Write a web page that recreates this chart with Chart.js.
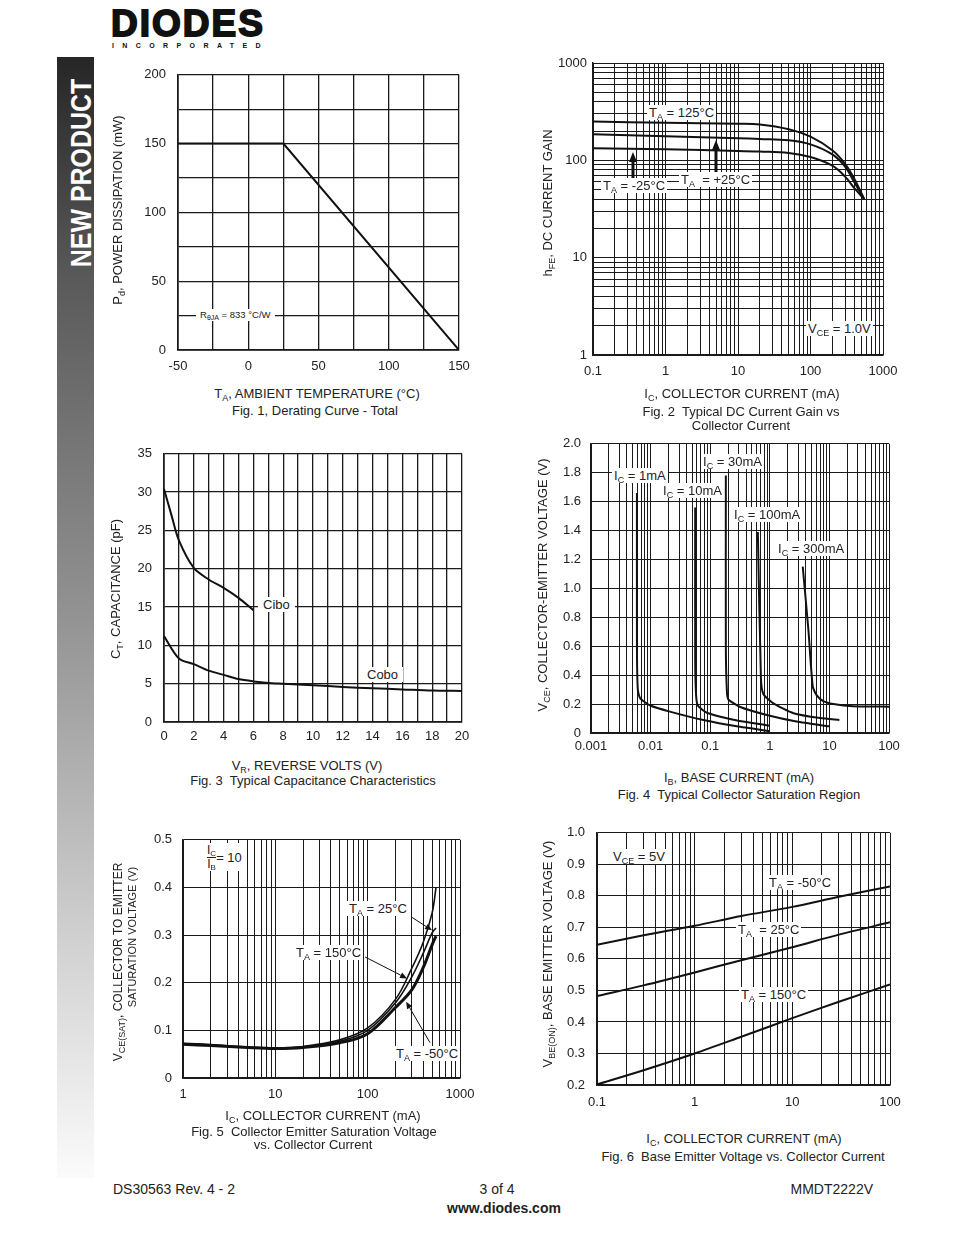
<!DOCTYPE html>
<html>
<head>
<meta charset="utf-8">
<script src="https://cdn.jsdelivr.net/npm/chart.js@4.4.1/dist/chart.umd.min.js"></script>
<style>
body { margin: 0; background: #fff; font-family: "Liberation Sans", Arial, sans-serif; color: #222; }
#page { position: relative; width: 954px; height: 1235px; overflow: hidden; background: #fff; }
canvas { position: absolute; }
.t { position: absolute; white-space: nowrap; line-height: 1; font-size: 13px; transform: translate(-50%, -50%); }
.r { transform: translate(-50%, -50%) rotate(-90deg); }
.lb { position: absolute; white-space: nowrap; line-height: 1; font-size: 13px; background: #fff; padding: 1px 2px; }
.s { font-size: 9px; position: relative; top: 3px; }
#bar { position: absolute; left: 57px; top: 57px; width: 37px; height: 1121px;
       background: linear-gradient(to bottom, #262626 0%, #5a5a5a 20%, #939393 50%, #cfcfcf 78%, #fbfbfb 100%); }
#np { position: absolute; left: 81px; top: 173px; color: #fff; font-weight: bold; font-size: 29px; white-space: nowrap;
      line-height: 1; transform: translate(-50%, -50%) rotate(-90deg) scaleX(0.86); }
#logo { position: absolute; left: 111px; top: 5px; font-size: 37px; font-weight: bold; line-height: 1;
        color: #111; -webkit-text-stroke: 1.8px #111; letter-spacing: 2px; }
#inc { position: absolute; left: 112px; top: 42px; font-size: 7px; font-weight: bold; letter-spacing: 8.4px; line-height: 1; color: #111; }
.foot { position: absolute; font-size: 14px; line-height: 1; white-space: nowrap; color: #222; }
</style>
</head>
<body>
<div id="page">
  <div id="bar"></div>
  <div id="np">NEW PRODUCT</div>
  <div id="logo">DIODES</div>
  <div id="inc">INCORPORATED</div>

  <canvas id="fig1"></canvas>
  <canvas id="fig2"></canvas>
  <canvas id="fig3"></canvas>
  <canvas id="fig4"></canvas>
  <canvas id="fig5"></canvas>
  <canvas id="fig6"></canvas>

  <!-- Fig 1 text -->
  <div class="t r" style="left:117px;top:210px">P<span class="s">d</span>, POWER DISSIPATION (mW)</div>
  <div class="t" style="left:317px;top:393px">T<span class="s">A</span>, AMBIENT TEMPERATURE (°C)</div>
  <div class="t" style="left:315px;top:410px">Fig. 1, Derating Curve - Total</div>
  <div class="lb" style="left:196px;top:309px;font-size:9.5px;padding:1px 4px">R<span class="s" style="font-size:7px;top:2px">θJA</span> = 833 °C/W</div>

  <!-- Fig 2 text -->
  <div class="t r" style="left:547px;top:203px">h<span class="s">FE</span>, DC CURRENT GAIN</div>
  <div class="t" style="left:742px;top:393px">I<span class="s">C</span>, COLLECTOR CURRENT (mA)</div>
  <div class="t" style="left:741px;top:411px">Fig. 2&nbsp; Typical DC Current Gain vs</div>
  <div class="t" style="left:741px;top:425px">Collector Current</div>
  <div class="lb" style="left:647px;top:105px">T<span class="s">A</span> = 125°C</div>
  <div class="lb" style="left:601px;top:178px">T<span class="s">A</span> = -25°C</div>
  <div class="lb" style="left:679px;top:172px">T<span class="s">A</span>&nbsp; = +25°C</div>
  <div class="lb" style="left:806px;top:321px">V<span class="s">CE</span> = 1.0V</div>

  <!-- Fig 3 text -->
  <div class="t r" style="left:115px;top:589px">C<span class="s">T</span>, CAPACITANCE (pF)</div>
  <div class="t" style="left:307px;top:765px">V<span class="s">R</span>, REVERSE VOLTS (V)</div>
  <div class="t" style="left:313px;top:780px">Fig. 3&nbsp; Typical Capacitance Characteristics</div>
  <div class="lb" style="left:258px;top:597px;padding:1px 5px">Cibo</div>
  <div class="lb" style="left:362px;top:667px;padding:1px 5px">Cobo</div>

  <!-- Fig 4 text -->
  <div class="t r" style="left:542px;top:585px">V<span class="s">CE</span>, COLLECTOR-EMITTER VOLTAGE (V)</div>
  <div class="t" style="left:739px;top:777px">I<span class="s">B</span>, BASE CURRENT (mA)</div>
  <div class="t" style="left:739px;top:794px">Fig. 4&nbsp; Typical Collector Saturation Region</div>
  <div class="lb" style="left:612px;top:468px">I<span class="s">C</span> = 1mA</div>
  <div class="lb" style="left:701px;top:454px">I<span class="s">C</span> = 30mA</div>
  <div class="lb" style="left:661px;top:483px">I<span class="s">C</span> = 10mA</div>
  <div class="lb" style="left:732px;top:507px">I<span class="s">C</span> = 100mA</div>
  <div class="lb" style="left:776px;top:541px">I<span class="s">C</span> = 300mA</div>

  <!-- Fig 5 text -->
  <div class="t r" style="left:118px;top:962px;font-size:12px">V<span class="s">CE(SAT)</span>, COLLECTOR TO EMITTER</div>
  <div class="t r" style="left:132px;top:937px;font-size:11px">SATURATION VOLTAGE (V)</div>
  <div class="t" style="left:323px;top:1115px">I<span class="s">C</span>, COLLECTOR CURRENT (mA)</div>
  <div class="t" style="left:314px;top:1131px">Fig. 5&nbsp; Collector Emitter Saturation Voltage</div>
  <div class="t" style="left:313px;top:1144px">vs. Collector Current</div>
  <div class="lb" style="left:204px;top:843px;padding:1px 3px">
    <span style="display:inline-block;vertical-align:middle;text-align:center;font-size:12px;line-height:1.05">
      <span style="display:block;border-bottom:1px solid #222">I<span class="s" style="font-size:8px;top:2px">C</span></span>
      <span style="display:block">I<span class="s" style="font-size:8px;top:2px">B</span></span>
    </span><span style="vertical-align:middle">= 10</span>
  </div>
  <div class="lb" style="left:347px;top:901px">T<span class="s">A</span> = 25°C</div>
  <div class="lb" style="left:294px;top:945px">T<span class="s">A</span> = 150°C</div>
  <div class="lb" style="left:394px;top:1046px">T<span class="s">A</span> = -50°C</div>

  <!-- Fig 6 text -->
  <div class="t r" style="left:547px;top:954px">V<span class="s">BE(ON)</span>, BASE EMITTER VOLTAGE (V)</div>
  <div class="t" style="left:744px;top:1138px">I<span class="s">C</span>, COLLECTOR CURRENT (mA)</div>
  <div class="t" style="left:743px;top:1156px">Fig. 6&nbsp; Base Emitter Voltage vs. Collector Current</div>
  <div class="lb" style="left:611px;top:849px">V<span class="s">CE</span> = 5V</div>
  <div class="lb" style="left:767px;top:875px">T<span class="s">A</span> = -50°C</div>
  <div class="lb" style="left:736px;top:922px">T<span class="s">A</span>&nbsp; = 25°C</div>
  <div class="lb" style="left:739px;top:987px">T<span class="s">A</span> = 150°C</div>

  <!-- footer -->
  <div class="foot" style="left:113px;top:1182px">DS30563 Rev. 4 - 2</div>
  <div class="foot" style="left:497px;top:1189px;transform:translate(-50%,-50%)">3 of 4</div>
  <div class="foot" style="left:873px;top:1189px;transform:translate(-100%,-50%)">MMDT2222V</div>
  <div class="foot" style="left:504px;top:1208px;transform:translate(-50%,-50%);font-weight:bold">www.diodes.com</div>
</div>

<script>
// Fig. 1  derating curve
var derTemp = [-50, 25, 150];
var derPower = [150, 150, 0];

// Fig. 2  hFE vs collector current (mA)
var hfeCurrent = [0.1, 1, 10, 20, 50, 100, 200, 300, 400, 550];
var hfe125 = [251, 243, 238, 234, 209, 175, 127, 92, 65, 40];
var hfe25 = [185, 177, 169, 166, 161, 146, 115, 86, 60, 40];
var hfeM25 = [133, 130, 125, 123, 119, 108, 88, 68, 52, 40];

// Fig. 3  capacitance vs reverse volts
var ciboV = [0, 0.5, 1, 2, 3, 4, 5, 6];
var ciboC = [30.4, 27.0, 23.7, 20.1, 18.6, 17.5, 16.2, 14.6];
var coboV = [0, 1, 2, 3, 4, 5, 6, 7, 8, 10, 12, 14, 16, 18, 20];
var coboC = [11.2, 8.3, 7.55, 6.7, 6.15, 5.6, 5.3, 5.1, 5.0, 4.8, 4.57, 4.4, 4.25, 4.1, 4.05];

// Fig. 4  Vce vs base current (mA), one pair per Ic
var ib1 = [0.0059, 0.0059, 0.0061, 0.0067, 0.0099, 0.021, 0.077, 0.28, 1.0];
var vce1 = [1.66, 0.6, 0.3, 0.24, 0.19, 0.148, 0.09, 0.046, 0.013];
var ib10 = [0.056, 0.056, 0.058, 0.062, 0.088, 0.245, 1.0];
var vce10 = [1.56, 0.5, 0.26, 0.19, 0.14, 0.092, 0.05];
var ib30 = [0.183, 0.183, 0.19, 0.2, 0.32, 0.89, 2.8, 10];
var vce30 = [1.78, 0.6, 0.3, 0.235, 0.18, 0.125, 0.08, 0.046];
var ib100 = [0.63, 0.71, 0.78, 1.15, 2.5, 7.0, 14.7];
var vce100 = [1.39, 0.38, 0.27, 0.205, 0.137, 0.103, 0.09];
var ib300 = [3.57, 4.45, 5.26, 6.14, 7.9, 11.7, 25, 100];
var vce300 = [1.15, 0.71, 0.32, 0.26, 0.22, 0.2, 0.185, 0.182];

// Fig. 5  Vce(sat) vs collector current (mA)
var satCurrent = [1, 2, 5, 10, 20, 50, 100, 200, 300, 400, 500, 550];
var sat150 = [0.073, 0.070, 0.065, 0.063, 0.066, 0.080, 0.105, 0.165, 0.23, 0.285, 0.347, 0.40];
var sat25 = [0.072, 0.069, 0.064, 0.062, 0.065, 0.077, 0.100, 0.158, 0.212, 0.262, 0.305, 0.315];
var satM50 = [0.071, 0.068, 0.064, 0.062, 0.064, 0.074, 0.093, 0.148, 0.185, 0.232, 0.28, 0.298];

// Fig. 6  Vbe(on) vs collector current (mA)
var vbeCurrent = [0.1, 0.3, 1, 3, 10, 30, 100];
var vbeM50 = [0.645, 0.675, 0.705, 0.736, 0.765, 0.797, 0.83];
var vbe25 = [0.482, 0.516, 0.557, 0.596, 0.637, 0.677, 0.716];
var vbe150 = [0.202, 0.247, 0.30, 0.353, 0.412, 0.464, 0.519];

var ML = 60, MT = 15, MR = 25, MB = 35;
Chart.defaults.font.family = 'Liberation Sans';

function setupCanvas(id, left, top, w, h) {
    var c = document.getElementById(id);
    c.width = w + ML + MR;
    c.height = h + MT + MB;
    c.style.left = (left - ML) + 'px';
    c.style.top = (top - MT) + 'px';
    return c.getContext('2d');
}

function logTicks(min, max) {
    var out = [];
    for (var e = Math.floor(Math.log10(min)); e <= Math.ceil(Math.log10(max)); e++) {
        for (var m = 1; m < 10; m++) {
            var v = parseFloat((m * Math.pow(10, e)).toPrecision(3));
            if (v >= min * 0.999 && v <= max * 1.001) out.push({ value: v });
        }
    }
    return out;
}

function decade(v) {
    var l = Math.log10(v);
    return Math.abs(l - Math.round(l)) < 1e-6 ? String(parseFloat(v.toPrecision(4))) : '';
}

function makeAxis(kind, type, min, max, step, label, pad, lw) {
    var a = {
        type: type, min: min, max: max,
        grid: { color: '#1a1a1a', lineWidth: lw, drawTicks: false },
        border: { color: '#1a1a1a', width: lw + 0.4 },
        ticks: {
            autoSkip: false, maxRotation: 0, minRotation: 0, padding: pad, color: '#222',
            font: { family: 'Liberation Sans', size: 13 }, callback: label
        }
    };
    if (step) a.ticks.stepSize = step;
    if (type === 'logarithmic') a.afterBuildTicks = function (s) { s.ticks = logTicks(min, max); };
    if (kind === 'x') a.afterFit = function (s) { s.height = MB; };
    else a.afterFit = function (s) { s.width = ML; };
    return a;
}

function chartOpts(xAxis, yAxis) {
    return {
        responsive: false, animation: false, events: [],
        layout: { padding: { left: 0, top: MT, right: MR, bottom: 0 }, autoPadding: false },
        plugins: { legend: { display: false }, tooltip: { enabled: false } },
        scales: { x: xAxis, y: yAxis }
    };
}

function curve(xs, ys, w, t) {
    return {
        data: xs.map(function (x, i) { return { x: x, y: ys[i] }; }),
        borderColor: '#111', borderWidth: w, pointRadius: 0, tension: t, fill: false
    };
}

// small arrows pointing from a label to its curve, given in data units
function arrows(list) {
    return {
        id: 'arrows',
        afterDatasetsDraw: function (chart) {
            var ctx = chart.ctx, xs = chart.scales.x, ys = chart.scales.y;
            list.forEach(function (a) {
                var x1 = xs.getPixelForValue(a.x1), y1 = ys.getPixelForValue(a.y1);
                var x2 = xs.getPixelForValue(a.x2), y2 = ys.getPixelForValue(a.y2);
                var ang = Math.atan2(y2 - y1, x2 - x1), c = Math.cos(ang), s = Math.sin(ang);
                ctx.save();
                ctx.strokeStyle = '#111';
                ctx.fillStyle = '#111';
                ctx.lineWidth = a.w;
                ctx.beginPath();
                ctx.moveTo(x1, y1);
                ctx.lineTo(x2 - c * a.head, y2 - s * a.head);
                ctx.stroke();
                ctx.beginPath();
                ctx.moveTo(x2, y2);
                ctx.lineTo(x2 - c * a.head - s * a.hw, y2 - s * a.head + c * a.hw);
                ctx.lineTo(x2 - c * a.head + s * a.hw, y2 - s * a.head - c * a.hw);
                ctx.closePath();
                ctx.fill();
                ctx.restore();
            });
        }
    };
}

// Chart for fig 1
var ctx1 = setupCanvas('fig1', 178, 70, 281, 280);
var chart1 = new Chart(ctx1, {
    type: 'line',
    data: { datasets: [curve(derTemp, derPower, 2, 0)] },
    options: chartOpts(
        makeAxis('x', 'linear', -50, 150, 25, function (v) { return v % 50 === 0 ? v : ''; }, 9, 1.3),
        makeAxis('y', 'linear', 0, 200, 25, function (v) { return v % 50 === 0 ? v : ''; }, 12, 1.3))
});

// Chart for fig 2
var ctx2 = setupCanvas('fig2', 593, 63, 290, 292);
var chart2 = new Chart(ctx2, {
    type: 'line',
    data: {
        datasets: [
            curve(hfeCurrent, hfe125, 2, 0.35),
            curve(hfeCurrent, hfe25, 2, 0.35),
            curve(hfeCurrent, hfeM25, 2, 0.35)
        ]
    },
    options: chartOpts(
        makeAxis('x', 'logarithmic', 0.1, 1000, null, decade, 9, 1),
        makeAxis('y', 'logarithmic', 1, 1000, null, decade, 6, 1)),
    plugins: [arrows([
        { x1: 0.356, y1: 64, x2: 0.356, y2: 122, w: 3, head: 10, hw: 4 },
        { x1: 4.97, y1: 74, x2: 4.97, y2: 162, w: 3, head: 10, hw: 4 }
    ])]
});

// Chart for fig 3
var ctx3 = setupCanvas('fig3', 164, 449, 298, 273);
var chart3 = new Chart(ctx3, {
    type: 'line',
    data: { datasets: [curve(ciboV, ciboC, 2, 0.3), curve(coboV, coboC, 2, 0.3)] },
    options: chartOpts(
        makeAxis('x', 'linear', 0, 20, 1, function (v) { return v % 2 === 0 ? v : ''; }, 7, 1.3),
        makeAxis('y', 'linear', 0, 35, 5, function (v) { return v; }, 12, 1.3))
});

// Chart for fig 4
var ctx4 = setupCanvas('fig4', 591, 441, 298, 292);
var chart4 = new Chart(ctx4, {
    type: 'line',
    data: {
        datasets: [
            curve(ib1, vce1, 2, 0.2),
            curve(ib10, vce10, 2, 0.2),
            curve(ib30, vce30, 2, 0.2),
            curve(ib100, vce100, 2, 0.2),
            curve(ib300, vce300, 2, 0.2)
        ]
    },
    options: chartOpts(
        makeAxis('x', 'logarithmic', 0.001, 100, null, decade, 6, 1),
        makeAxis('y', 'linear', 0, 2, 0.2, function (v) { return v === 0 ? '0' : v.toFixed(1); }, 10, 1))
});

// Chart for fig 5
var ctx5 = setupCanvas('fig5', 183, 836, 277, 242);
var chart5 = new Chart(ctx5, {
    type: 'line',
    data: {
        datasets: [
            curve(satCurrent, sat150, 1.6, 0.35),
            curve(satCurrent, sat25, 1.6, 0.35),
            curve(satCurrent, satM50, 3, 0.35)
        ]
    },
    options: chartOpts(
        makeAxis('x', 'logarithmic', 1, 1000, null, decade, 9, 1),
        makeAxis('y', 'linear', 0, 0.5, 0.1, function (v) { return v === 0 ? '0' : v.toFixed(1); }, 11, 1)),
    plugins: [arrows([
        { x1: 303, y1: 0.337, x2: 498, y2: 0.31, w: 1, head: 7, hw: 3 },
        { x1: 93.8, y1: 0.254, x2: 267, y2: 0.209, w: 1, head: 7, hw: 3 },
        { x1: 474, y1: 0.074, x2: 261, y2: 0.16, w: 1, head: 7, hw: 3 }
    ])]
});

// Chart for fig 6
var ctx6 = setupCanvas('fig6', 597, 828, 293, 257);
var chart6 = new Chart(ctx6, {
    type: 'line',
    data: {
        datasets: [
            curve(vbeCurrent, vbeM50, 2, 0.3),
            curve(vbeCurrent, vbe25, 2, 0.3),
            curve(vbeCurrent, vbe150, 2, 0.3)
        ]
    },
    options: chartOpts(
        makeAxis('x', 'logarithmic', 0.1, 100, null, decade, 10, 1),
        makeAxis('y', 'linear', 0.2, 1.0, 0.1, function (v) { return v.toFixed(1); }, 12, 1))
});
</script>
</body>
</html>
